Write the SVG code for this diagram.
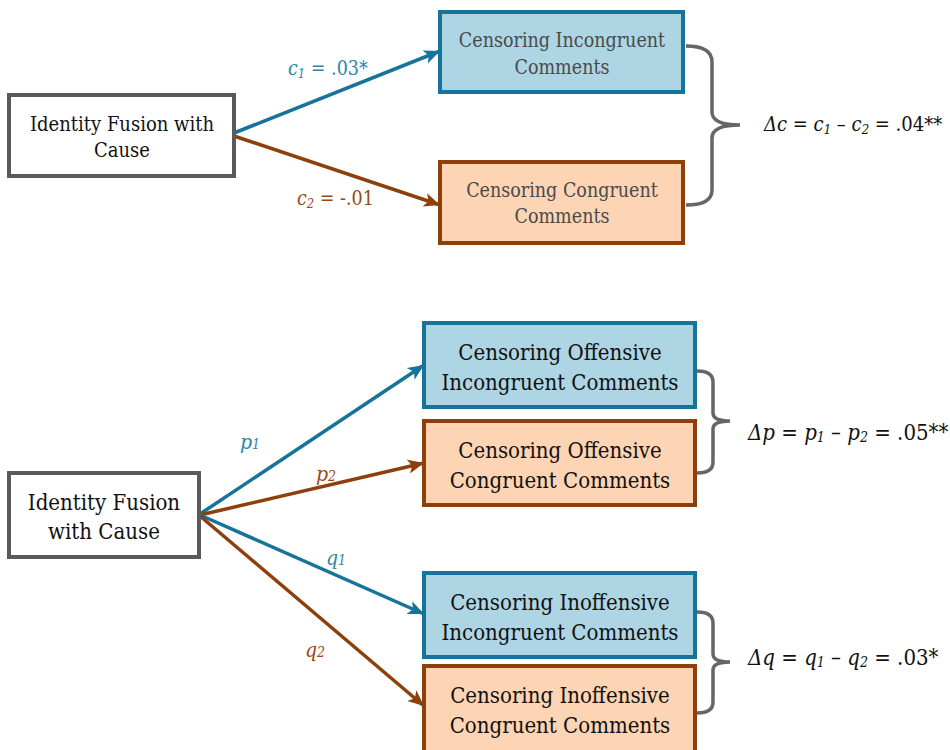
<svg xmlns="http://www.w3.org/2000/svg" width="950" height="750" viewBox="0 0 950 750" font-family="'DejaVu Serif Condensed', 'DejaVu Serif', serif">
<style>
.src{fill:#fff;stroke:#5a5a5a;stroke-width:4;}
.blue{fill:#aed5e4;stroke:#16739a;stroke-width:4;}
.orange{fill:#fdd4b4;stroke:#8d3f0c;stroke-width:4;}
.t1{font-size:19.5px;fill:#4a4a4a;text-anchor:middle;}
.t0{font-size:20px;fill:#111;text-anchor:middle;}
.t2{font-size:22px;fill:#111;text-anchor:middle;}
.bl{stroke:#16739a;stroke-width:3.5;fill:none;marker-end:url(#ab);}
.or{stroke:#8d3f0c;stroke-width:3.5;fill:none;marker-end:url(#ao);}
.brace{stroke:#666;stroke-width:3.5;fill:none;}
.lb{fill:#2d86a8;font-size:19.5px;}
.lo{fill:#9a4a10;font-size:19.5px;}
.eq{fill:#111;font-size:20px;}
.it{font-style:italic;}
.sub{font-size:13px;font-style:italic;}
</style>
<defs>
<marker id="ab" markerUnits="userSpaceOnUse" markerWidth="20" markerHeight="20" refX="16" refY="8" orient="auto"><path d="M0,1 L16,8 L0,15 L4,8 Z" fill="#16739a"/></marker>
<marker id="ao" markerUnits="userSpaceOnUse" markerWidth="20" markerHeight="20" refX="16" refY="8" orient="auto"><path d="M0,1 L16,8 L0,15 L4,8 Z" fill="#8d3f0c"/></marker>
</defs>

<g id="connectors">
<line class="bl" x1="234" y1="133" x2="440" y2="51"/>
<line class="or" x1="234" y1="136" x2="440" y2="205"/>
<line class="bl" x1="200" y1="514" x2="424" y2="365"/>
<line class="or" x1="200" y1="515" x2="424" y2="463"/>
<line class="bl" x1="200" y1="515" x2="424" y2="614"/>
<line class="or" x1="200" y1="516" x2="424" y2="706"/>
<text class="lb" x="288" y="75"><tspan class="it">c</tspan><tspan class="sub" dy="3">1</tspan><tspan dy="-3"> = .03*</tspan></text>
<text class="lo" x="297" y="205"><tspan class="it">c</tspan><tspan class="sub" dy="3">2</tspan><tspan dy="-3"> = -.01</tspan></text>
<text class="lb" x="240" y="449" style="font-size:21px"><tspan class="it">p</tspan><tspan class="sub" style="font-size:14px">1</tspan></text>
<text class="lo" x="316" y="481" style="font-size:21px"><tspan class="it">p</tspan><tspan class="sub" style="font-size:14px">2</tspan></text>
<text class="lb" x="326" y="565" style="font-size:21px"><tspan class="it">q</tspan><tspan class="sub" style="font-size:14px">1</tspan></text>
<text class="lo" x="305" y="657" style="font-size:21px"><tspan class="it">q</tspan><tspan class="sub" style="font-size:14px">2</tspan></text>
</g>

<g id="source1">
<rect class="src" x="9" y="95" width="225" height="81"/>
<text class="t0" x="122" y="131">Identity Fusion with</text>
<text class="t0" x="122" y="157">Cause</text>
</g>
<g id="incongruent">
<rect class="blue" x="440" y="12" width="243" height="80"/>
<text class="t1" x="562" y="47">Censoring Incongruent</text>
<text class="t1" x="562" y="74">Comments</text>
</g>
<g id="congruent">
<rect class="orange" x="440" y="162" width="243" height="81"/>
<text class="t1" x="562" y="197">Censoring Congruent</text>
<text class="t1" x="562" y="223">Comments</text>
</g>
<g id="brace-c">
<path class="brace" d="M686,46 Q712,46 712,62 L712,112 Q712,125 740,125 Q712,125 712,138 L712,190 Q712,205 686,205"/>
<text class="eq" x="764" y="131"><tspan class="it">Δc</tspan> = <tspan class="it">c</tspan><tspan class="sub" dy="3">1</tspan><tspan dy="-3"> – </tspan><tspan class="it">c</tspan><tspan class="sub" dy="3">2</tspan><tspan dy="-3"> = .04**</tspan></text>
</g>

<g id="source2">
<rect class="src" x="9" y="473" width="190" height="84"/>
<text class="t2" x="104" y="510">Identity Fusion</text>
<text class="t2" x="104" y="539">with Cause</text>
</g>
<g id="off-incongruent">
<rect class="blue" x="424" y="323" width="271" height="84"/>
<text class="t2" x="560" y="360">Censoring Offensive</text>
<text class="t2" x="560" y="390">Incongruent Comments</text>
</g>
<g id="off-congruent">
<rect class="orange" x="424" y="421" width="271" height="84"/>
<text class="t2" x="560" y="458">Censoring Offensive</text>
<text class="t2" x="560" y="488">Congruent Comments</text>
</g>
<g id="inoff-incongruent">
<rect class="blue" x="424" y="573" width="271" height="84"/>
<text class="t2" x="560" y="610">Censoring Inoffensive</text>
<text class="t2" x="560" y="640">Incongruent Comments</text>
</g>
<g id="inoff-congruent">
<rect class="orange" x="424" y="666" width="271" height="90"/>
<text class="t2" x="560" y="703">Censoring Inoffensive</text>
<text class="t2" x="560" y="733">Congruent Comments</text>
</g>
<g id="brace-p">
<path class="brace" d="M697,371 Q713,371 713,382 L713,413 Q713,421 730,421 Q713,421 713,429 L713,462 Q713,473 697,473"/>
<text class="eq" x="748" y="440" style="font-size:22px"><tspan class="it">Δp</tspan> = <tspan class="it">p</tspan><tspan class="sub" dy="2" style="font-size:14px">1</tspan><tspan dy="-2"> – </tspan><tspan class="it">p</tspan><tspan class="sub" dy="2" style="font-size:14px">2</tspan><tspan dy="-2"> = .05**</tspan></text>
</g>
<g id="brace-q">
<path class="brace" d="M697,612 Q713,612 713,623 L713,654 Q713,662 730,662 Q713,662 713,670 L713,702 Q713,713 697,713"/>
<text class="eq" x="748" y="665" style="font-size:22px"><tspan class="it">Δq</tspan> = <tspan class="it">q</tspan><tspan class="sub" dy="2" style="font-size:14px">1</tspan><tspan dy="-2"> – </tspan><tspan class="it">q</tspan><tspan class="sub" dy="2" style="font-size:14px">2</tspan><tspan dy="-2"> = .03*</tspan></text>
</g>
</svg>
